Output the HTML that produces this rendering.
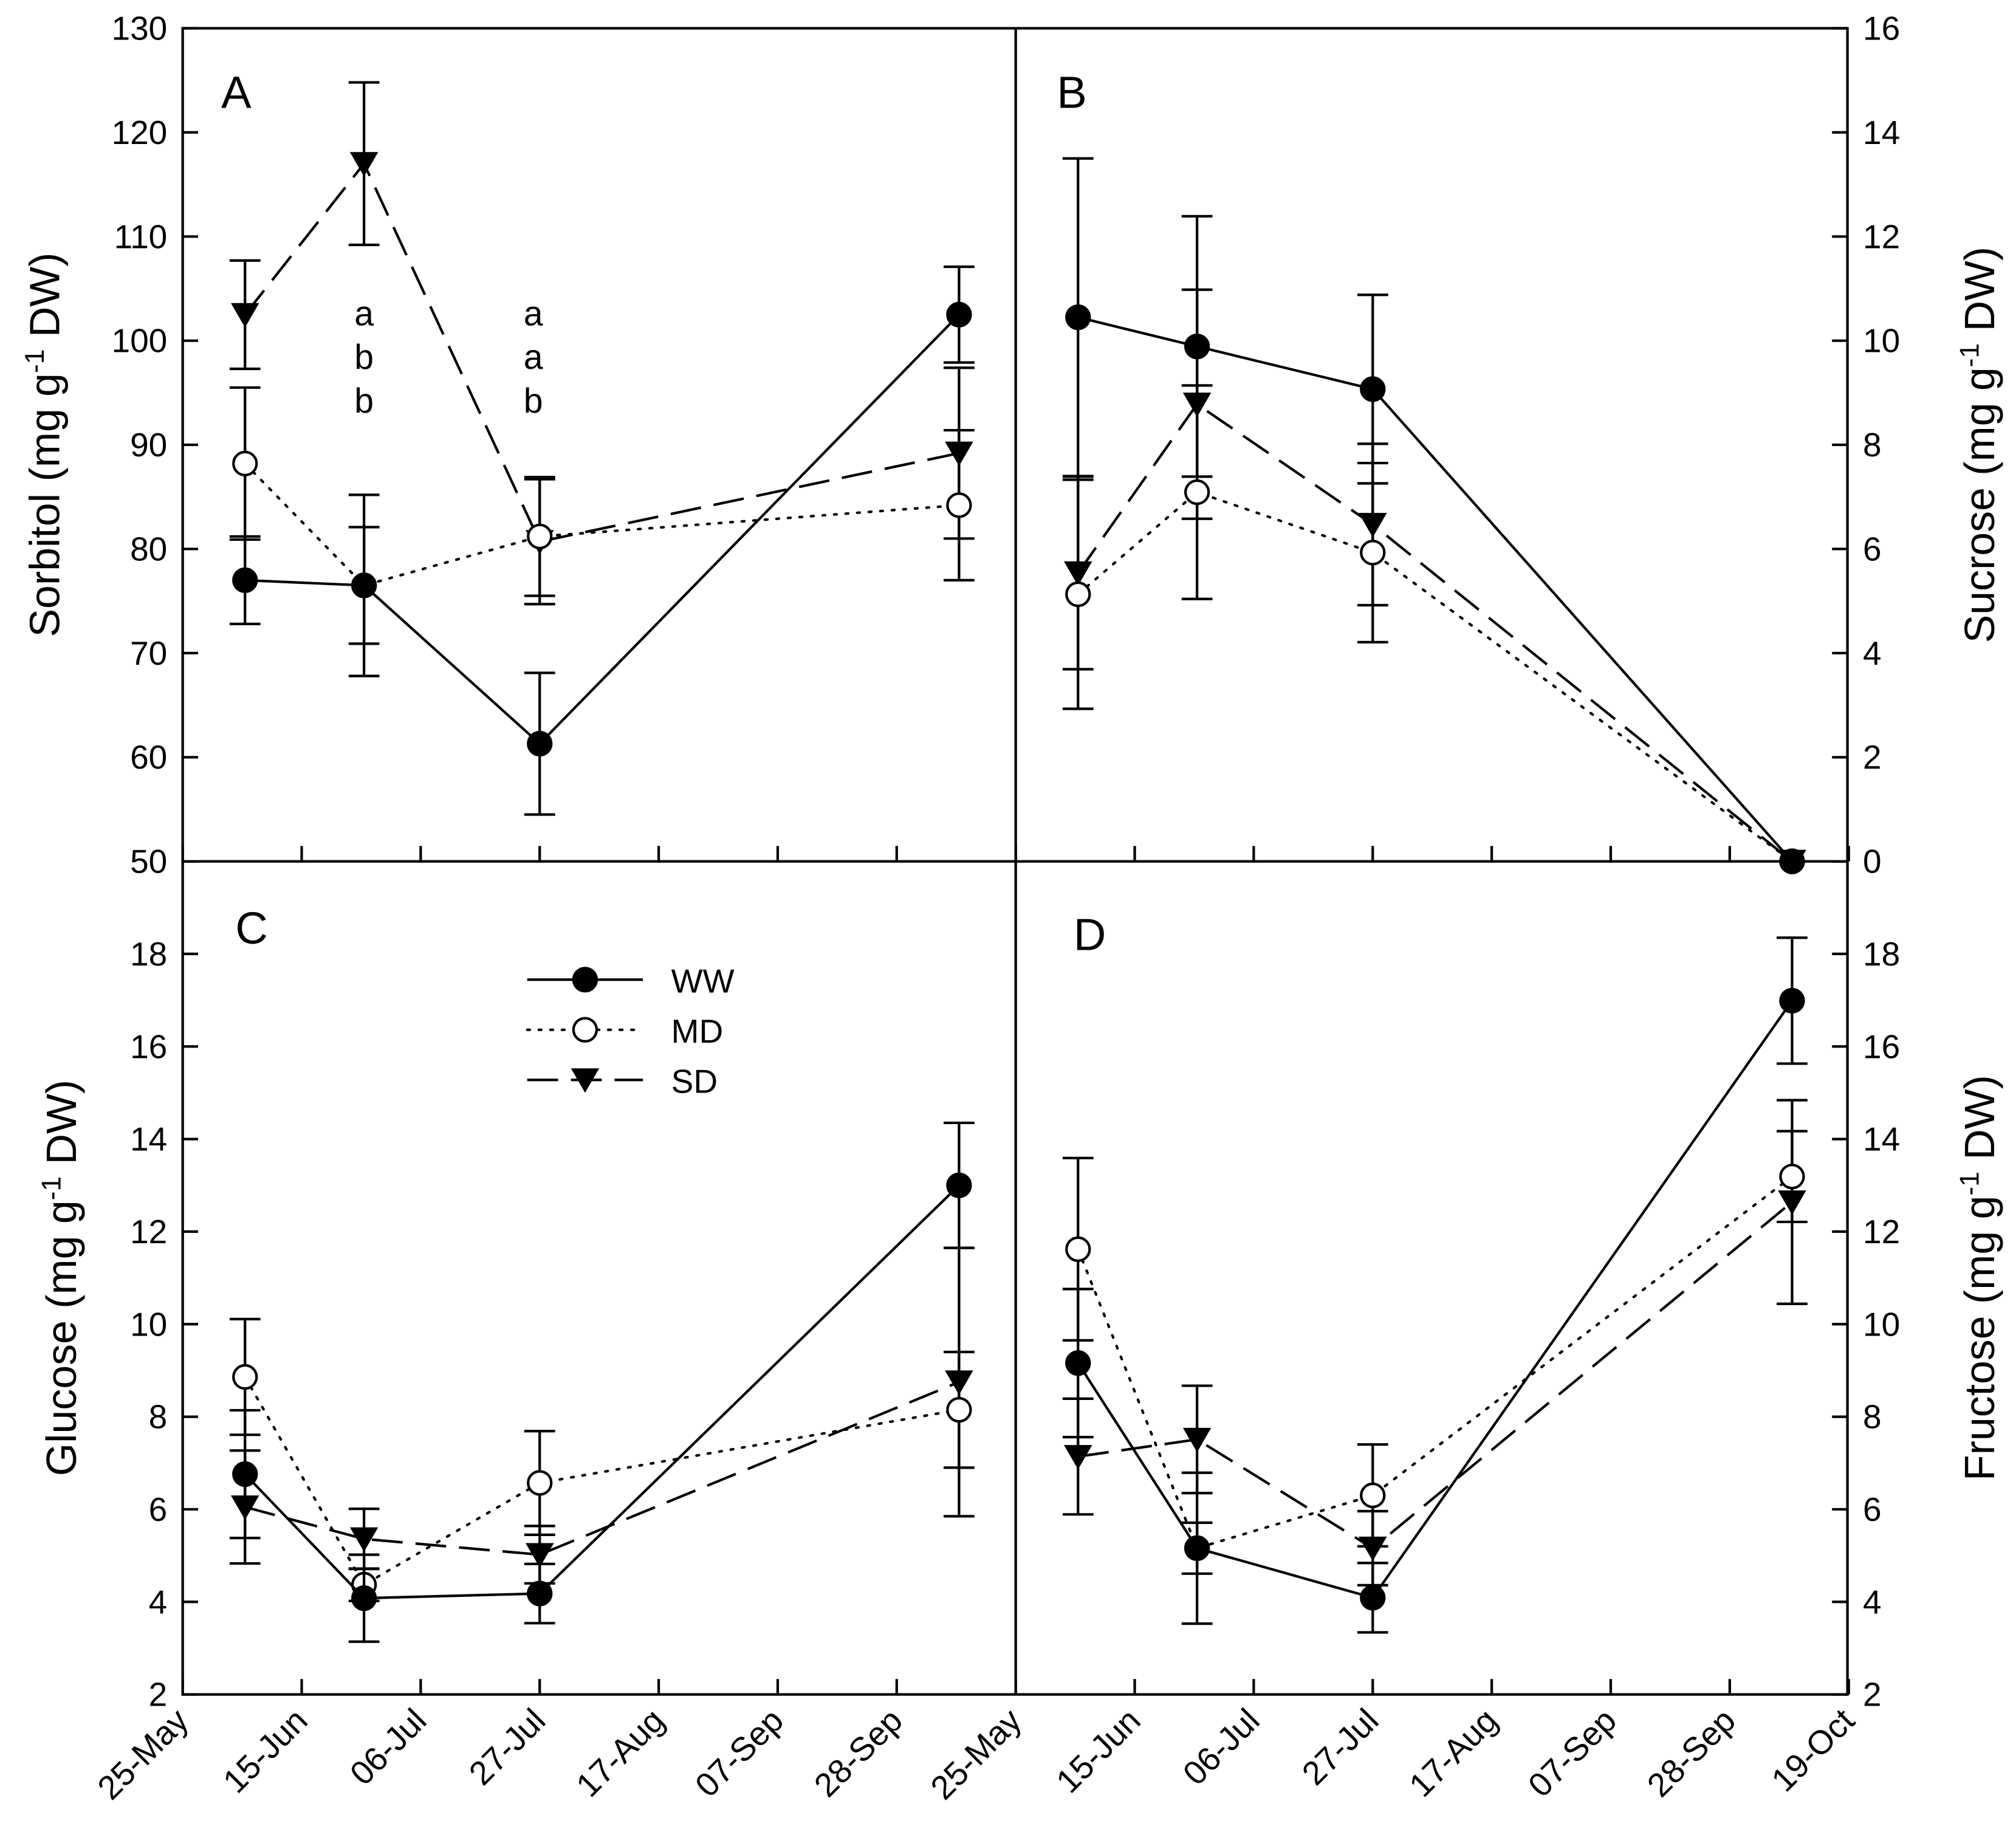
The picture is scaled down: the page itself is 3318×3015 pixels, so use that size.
<!DOCTYPE html>
<html><head><meta charset="utf-8">
<style>html,body{margin:0;padding:0;background:#fff}svg{display:block}</style>
</head><body>
<svg id="chart" xmlns="http://www.w3.org/2000/svg" width="3318" height="3015" viewBox="0 0 1568 1425" font-family="Liberation Sans, Arial, sans-serif">
<rect x="0" y="0" width="1568" height="1425" fill="#fff"/>
</svg>
<script>
const days=[11,32,63,137];
const tickDaysLeft=["25-May","15-Jun","06-Jul","27-Jul","17-Aug","07-Sep","28-Sep"];
const tickDaysRight=["25-May","15-Jun","06-Jul","27-Jul","17-Aug","07-Sep","28-Sep","19-Oct"];
const series=["WW","MD","SD"];
// Panel A sorbitol
const aWW=[77,76.5,61.3,102.5], aWWe=[4.2,8.7,6.8,4.6];
const aMD=[88.2,76.5,81.2,84.2], aMDe=[7.3,5.6,5.7,7.2];
const aSD=[102.5,117,80.7,89.2], aSDe=[5.2,7.8,6,8.2];
// Panel B sucrose
const bWW=[10.45,9.89,9.07,0], bWWe=[3.05,2.5,1.81,0];
const bMD=[5.13,7.09,5.93,0], bMDe=[2.2,2.05,1.72,0];
const bSD=[5.54,8.78,6.47,0], bSDe=[1.85,2.2,1.55,0];
// Panel C glucose
const cWW=[6.76,4.08,4.18,13.0], cWWe=[1.38,0.94,0.64,1.35];
const cMD=[8.86,4.37,6.57,8.15], cMDe=[1.25,0.35,1.12,1.25];
const cSD=[6.05,5.36,5.02,8.75], cSDe=[1.22,0.65,0.62,2.9];
// Panel D fructose
const dWW=[9.16,5.16,4.09,16.99], dWWe=[1.6,1.63,0.75,1.36];
const dMD=[11.62,5.16,6.30,13.19], dMDe=[1.97,0.55,1.1,0.98];
const dSD=[7.14,7.51,5.16,12.64], dSDe=[1.25,1.16,0.8,2.2];
const letters1=["a","b","b"], letters2=["a","a","b"];

const NS="http://www.w3.org/2000/svg";
const svg=document.getElementById('chart');
function mk(tag,attrs,parent){const e=document.createElementNS(NS,tag);for(const k in attrs)e.setAttribute(k,attrs[k]);(parent||svg).appendChild(e);return e;}

const L=142,M=790,R=1437,T=22,MID=670,B=1318;
const pxDay=(M-L)/147;
function panel(x0,y0,y1,vmin,vmax){
  return {x:d=>x0+d*pxDay, y:v=>y1-(v-vmin)/(vmax-vmin)*(y1-y0)};
}
const pA=panel(L,T,MID,50,130), pB=panel(M,T,MID,0,16), pC=panel(L,MID,B,2,20), pD=panel(M,MID,B,2,20);

const fr=mk('rect',{x:L,y:T,width:R-L,height:B-T,fill:'none',stroke:'#000','stroke-width':2});


const h=mk('line',{x1:L,x2:R,y1:MID,y2:MID,stroke:'#000','stroke-width':2});


const v=mk('line',{x1:M,x2:M,y1:T,y2:B,stroke:'#000','stroke-width':2});



function yAxis(p,vals,side,name){
  const g=mk('g',{});
  
  
  vals.forEach(val=>{
    const y=p.y(val);
    if(side==='left'){
      mk('line',{x1:L,x2:L+12,y1:y,y2:y,stroke:'#000','stroke-width':2},g);
      const t=mk('text',{x:L-12,y:y+9,'text-anchor':'end','font-size':26},g);t.textContent=val;
    }else{
      mk('line',{x1:R-12,x2:R,y1:y,y2:y,stroke:'#000','stroke-width':2},g);
      const t=mk('text',{x:R+12,y:y+9,'text-anchor':'start','font-size':26},g);t.textContent=val;
    }
  });
}
yAxis(pA,[50,60,70,80,90,100,110,120,130],'left','y-axis-sorbitol');
yAxis(pB,[0,2,4,6,8,10,12,14,16],'right','y-axis-sucrose');
yAxis(pC,[2,4,6,8,10,12,14,16,18],'left','y-axis-glucose');
yAxis(pD,[2,4,6,8,10,12,14,16,18],'right','y-axis-fructose');

function xTicks(p,labels,yb,withLabels,name){
  const g=mk('g',{});
  
  
  labels.forEach((lab,i)=>{
    const x=p.x(i*21);
    mk('line',{x1:x,x2:x,y1:yb,y2:yb-12,stroke:'#000','stroke-width':2},g);
    if(withLabels){
      const t=mk('text',{x:x+6,y:yb+22,'text-anchor':'end','font-size':26,transform:`rotate(-45 ${x+6} ${yb+22})`},g);
      t.textContent=lab;
    }
  });
}
xTicks(pA,tickDaysLeft,MID,false,'x-ticks-a');
xTicks(pB,tickDaysRight,MID,false,'x-ticks-b');
xTicks(pC,tickDaysLeft,B,true,'x-axis-left');
xTicks(pD,tickDaysRight,B,true,'x-axis-right');

const styles={WW:{dash:'',fill:'#000',shape:'circle'},MD:{dash:'2 7',fill:'#fff',shape:'circle'},SD:{dash:'24 10',fill:'#000',shape:'tri'}};
function marker(g,s,x,y){
  if(s.shape==='circle') return mk('circle',{cx:x,cy:y,r:9,fill:s.fill,stroke:'#000','stroke-width':2},g);
  return mk('path',{d:`M${x-11} ${y-9}L${x+11} ${y-9}L${x} ${y+10}Z`,fill:'#000'},g);
}
function drawSeries(p,vals,errs,key,name){
  const s=styles[key];
  const g=mk('g',{});
  
  
  vals.forEach((val,i)=>{
    if(errs[i]>0){
      const x=p.x(days[i]),y1=p.y(val+errs[i]),y2=p.y(val-errs[i]);
      mk('line',{x1:x,x2:x,y1:y1,y2:y2,stroke:'#000','stroke-width':2},g);
      mk('line',{x1:x-12,x2:x+12,y1:y1,y2:y1,stroke:'#000','stroke-width':2},g);
      mk('line',{x1:x-12,x2:x+12,y1:y2,y2:y2,stroke:'#000','stroke-width':2},g);
    }
  });
  const pts=vals.map((val,i)=>p.x(days[i])+','+p.y(val)).join(' ');
  const a={points:pts,fill:'none',stroke:'#000','stroke-width':2};
  if(s.dash)a['stroke-dasharray']=s.dash;
  if(key==='MD')a['stroke-linecap']='round';
  mk('polyline',a,g);
  vals.forEach((val,i)=>{
    const m=marker(g,s,p.x(days[i]),p.y(val));
    
    
  });
}
drawSeries(pA,aSD,aSDe,'SD','series-a-sd');drawSeries(pA,aMD,aMDe,'MD','series-a-md');drawSeries(pA,aWW,aWWe,'WW','series-a-ww');
drawSeries(pB,bSD,bSDe,'SD','series-b-sd');drawSeries(pB,bMD,bMDe,'MD','series-b-md');drawSeries(pB,bWW,bWWe,'WW','series-b-ww');
drawSeries(pC,cSD,cSDe,'SD','series-c-sd');drawSeries(pC,cMD,cMDe,'MD','series-c-md');drawSeries(pC,cWW,cWWe,'WW','series-c-ww');
drawSeries(pD,dSD,dSDe,'SD','series-d-sd');drawSeries(pD,dMD,dMDe,'MD','series-d-md');drawSeries(pD,dWW,dWWe,'WW','series-d-ww');

function lettersAt(arr,x,name){
  const g=mk('g',{});
  
  
  arr.forEach((l,i)=>{const t=mk('text',{x:x,y:253+i*34,'text-anchor':'middle','font-size':27},g);t.textContent=l;});
}
lettersAt(letters1,pA.x(days[1]),'letters-jul');
lettersAt(letters2,pA.x(days[2])-5,'letters-aug');

[['A',172,84],['B',822,84],['C',183,734],['D',835,739]].forEach(([l,x,y])=>{
  const t=mk('text',{x:x,y:y,'font-size':35},svg);t.textContent=l;
  
  
});

function title(txt,x,y,name){
  const t=mk('text',{x:x,y:y,'text-anchor':'middle','font-size':33,transform:`rotate(-90 ${x} ${y})`});
  
  
  t.innerHTML=txt+' (mg g<tspan dy="-12" font-size="21">-1</tspan><tspan dy="12"> DW)</tspan>';
}
title('Sorbitol',46,346,'y-axis-title-sorbitol');
title('Sucrose',1551,346,'y-axis-title-sucrose');
title('Glucose',59,994,'y-axis-title-glucose');
title('Fructose',1551,994,'y-axis-title-fructose');

const lg=mk('g',{});


series.forEach((k,i)=>{
  const y=762+i*39, s=styles[k];
  const a={x1:410,x2:500,y1:y,y2:y,stroke:'#000','stroke-width':2};
  if(s.dash)a['stroke-dasharray']=s.dash;
  if(k==='MD')a['stroke-linecap']='round';
  mk('line',a,lg);
  marker(lg,s,455,y);
  const t=mk('text',{x:522,y:y+10,'font-size':26},lg);t.textContent=k;
  
  
});
</script>
</body></html>
